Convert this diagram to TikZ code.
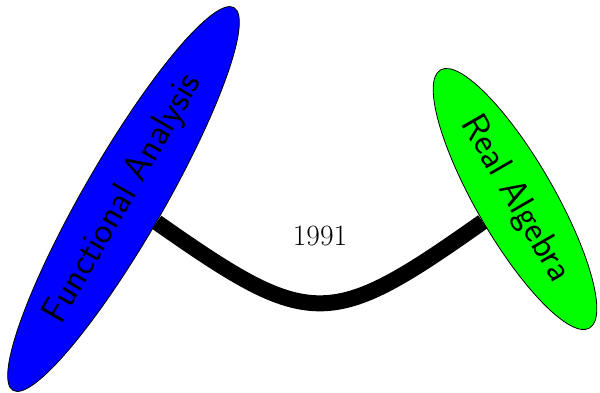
\documentclass[tikz,border=0pt]{standalone}
\usetikzlibrary{shapes.geometric}
\begin{document}
\begin{tikzpicture}[x=1pt,y=-1pt,
  field/.style={ellipse, draw=black, line width=0.8pt, inner sep=0pt,
    font=\sffamily\fontsize{37.2}{40}\selectfont},
  link/.style={line width=16pt, black, line cap=butt},
  yearlabel/.style={font=\fontsize{29.5}{32}\selectfont}]
\useasboundingbox (0,0) rectangle (600,392);
\node[field, fill=blue, minimum width=442pt, minimum height=80pt, rotate=60] (fa) at (123.5,199) {Functional Analysis};
\node[field, fill=green, minimum width=298pt, minimum height=78pt, rotate=-60] (ra) at (515,199) {Real Algebra};
\draw[link] (fa) .. controls (310.8,330.4) and (329.2,330.4) .. (ra);
\node[yearlabel] (yr) at (320,235.5) {1991};
\end{tikzpicture}
\end{document}
